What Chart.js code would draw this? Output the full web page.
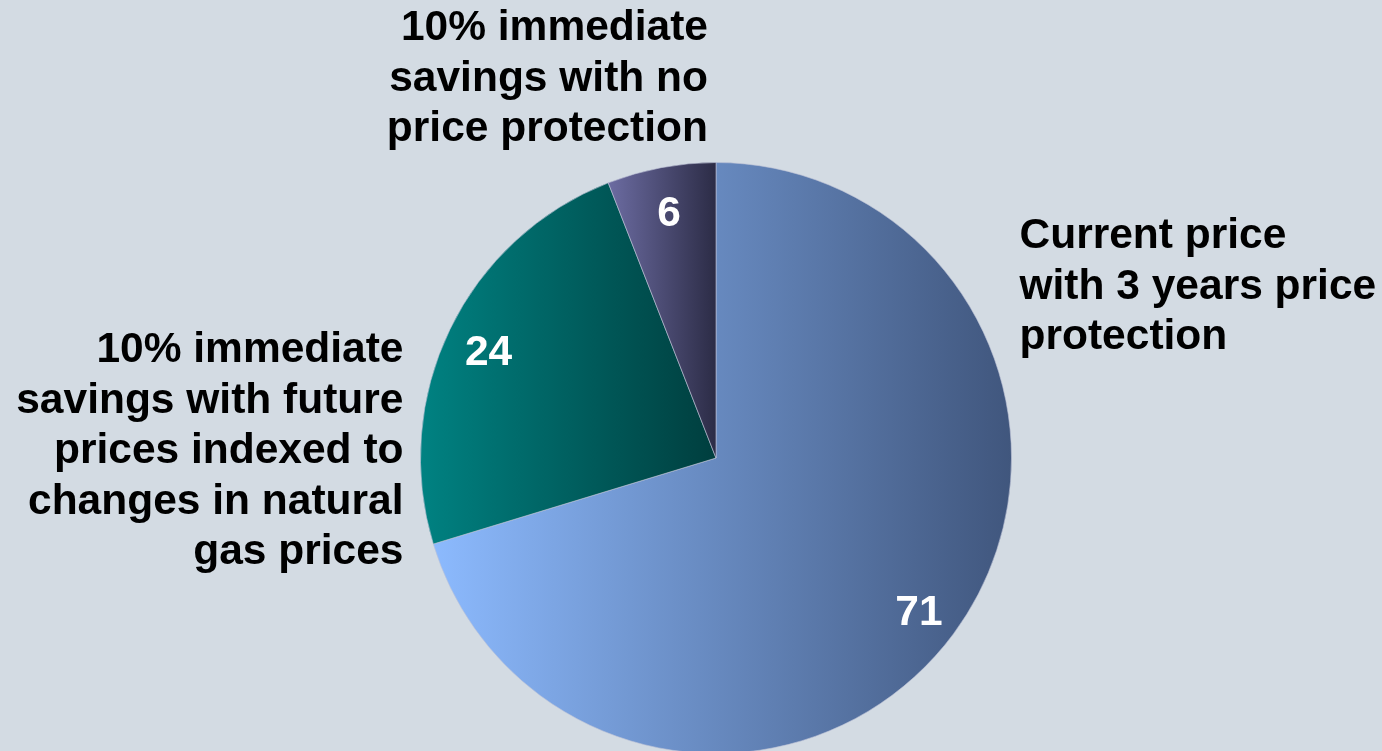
<!DOCTYPE html>
<html>
<head>
<meta charset="utf-8">
<script src="https://cdn.jsdelivr.net/npm/chart.js@4/dist/chart.umd.min.js"></script>
<style>
    html, body { margin: 0; padding: 0; background: #d3dbe3; overflow: hidden; }
    #wrap { position: relative; width: 1382px; height: 760px; }
</style>
</head>
<body>
<div id="wrap"><canvas id="pieChart"></canvas></div>
<script>
const categories = [
    ['Current price', 'with 3 years price', 'protection'],
    ['10% immediate', 'savings with future', 'prices indexed to', 'changes in natural', 'gas prices'],
    ['10% immediate', 'savings with no', 'price protection']
];
const shares = [71, 24, 6];

// gradient ends (left -> right) for each slice
const lightColors = ['#8cbafe', '#008282', '#6c6ca2'];
const darkColors = ['#40567d', '#003e3e', '#2c2c46'];

// where each category label sits, relative to the pie centre and radius
const labelLayout = [
    { side: 'right', dx: 1, gap: 8, y: -210 },
    { side: 'left', dx: -1, gap: 17, y: -96 },
    { side: 'left', dx: 0, gap: 8, y: -418 }
];

const FONT = 'bold 42.5px "Liberation Sans", Arial, sans-serif';
const LINE = 50.5;

// x extent of a slice, found by walking along its arc
const sliceExtent = (chart, i) => {
    const area = chart.chartArea;
    const cx = (area.left + area.right) / 2;
    const r = Math.min(area.width, area.height) / 2;
    const total = shares.reduce((a, b) => a + b, 0);
    let start = 0;
    for (let k = 0; k < i; k++) start += shares[k] / total * Math.PI * 2;
    const end = start + shares[i] / total * Math.PI * 2;
    let minX = cx, maxX = cx;
    for (let t = 0; t <= 60; t++) {
        const a = start + (end - start) * t / 60;
        const x = cx + r * Math.sin(a);
        minX = Math.min(minX, x);
        maxX = Math.max(maxX, x);
    }
    return [minX, maxX];
};

const sliceLabels = {
    id: 'sliceLabels',
    afterDatasetsDraw(chart) {
        const ctx = chart.ctx;
        const meta = chart.getDatasetMeta(0);
        ctx.save();
        ctx.font = FONT;
        meta.data.forEach((arc, i) => {
            const mid = (arc.startAngle + arc.endAngle) / 2;
            const rr = arc.outerRadius * 0.855;
            ctx.fillStyle = '#ffffff';
            ctx.textAlign = 'center';
            ctx.textBaseline = 'middle';
            ctx.fillText(String(shares[i]), arc.x + rr * Math.cos(mid), arc.y + rr * Math.sin(mid) + 5);

            const lay = labelLayout[i];
            const x = arc.x + lay.dx * arc.outerRadius + (lay.side === 'right' ? lay.gap : -lay.gap);
            ctx.fillStyle = '#000000';
            ctx.textAlign = lay.side === 'right' ? 'left' : 'right';
            ctx.textBaseline = 'alphabetic';
            categories[i].forEach((line, j) => {
                ctx.fillText(line, x, arc.y + lay.y + j * LINE);
            });
        });
        ctx.restore();
    }
};

const ctx = document.getElementById('pieChart').getContext('2d');
new Chart(ctx, {
    type: 'pie',
    data: {
        labels: categories.map(c => c.join(' ')),
        datasets: [{
            data: shares,
            backgroundColor: (c) => {
                const chart = c.chart;
                if (!chart.chartArea) return lightColors[c.dataIndex];
                const [x0, x1] = sliceExtent(chart, c.dataIndex);
                const g = chart.ctx.createLinearGradient(x0, 0, x1, 0);
                g.addColorStop(0, lightColors[c.dataIndex]);
                g.addColorStop(1, darkColors[c.dataIndex]);
                return g;
            },
            borderColor: 'rgba(190,195,215,0.6)',
            borderWidth: 1
        }]
    },
    options: {
        responsive: true,
        maintainAspectRatio: false,
        animation: false,
        layout: { padding: { top: 162, bottom: 6, left: 420, right: 370 } },
        plugins: {
            legend: { display: false },
            tooltip: { enabled: false }
        }
    },
    plugins: [sliceLabels]
});
</script>
</body>
</html>
